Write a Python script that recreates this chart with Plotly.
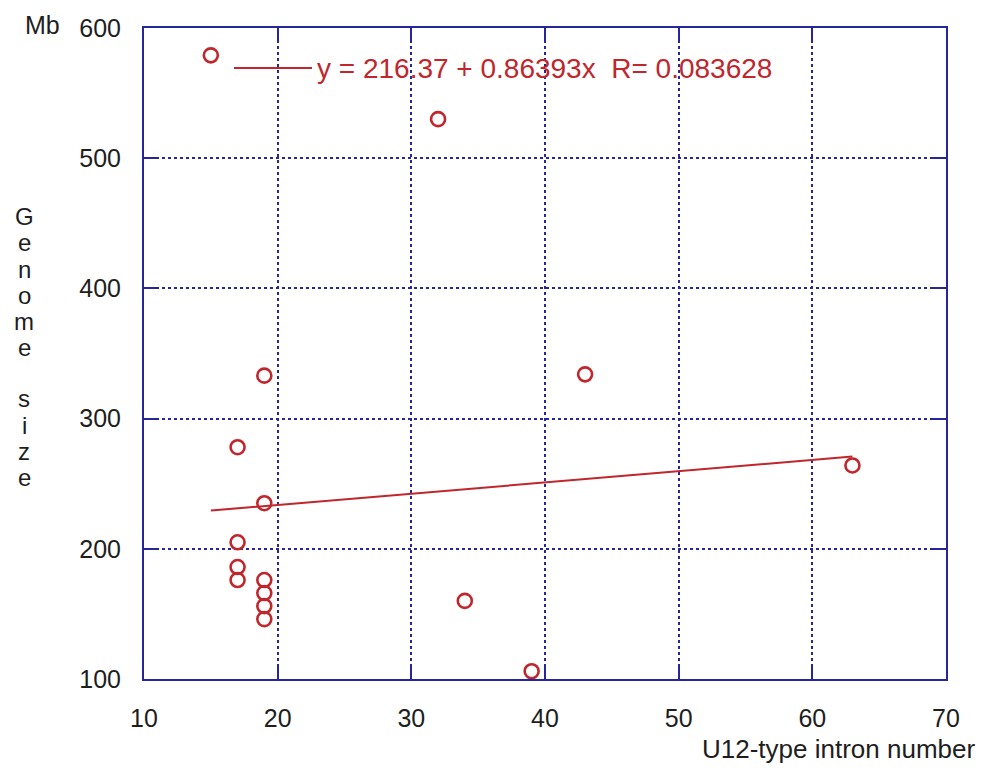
import plotly.graph_objects as go

# Data
intron_number = [15, 32, 19, 17, 19, 17, 17, 17, 19, 19, 19, 19, 34, 39, 43, 63]
genome_size_mb = [579, 530, 333, 278, 235, 205, 186, 176, 176, 166, 156, 146, 160, 106, 334, 264]

fit_intercept = 216.37
fit_slope = 0.86393
fit_r = 0.083628

x_ticks = [10, 20, 30, 40, 50, 60, 70]
y_ticks = [100, 200, 300, 400, 500, 600]
y_title = "Genome size"

RED = "#c0262c"
NAVY = "#26269a"
FONT = "Liberation Sans, Arial, sans-serif"
TXT = "#1e1e1e"

W, H = 985, 779
L, R, T, B = 144, 39, 28, 100
PW, PH = W - L - R, H - T - B


def px(xp):
    return (xp - L) / PW


def py(yp):
    return (H - B - yp) / PH


x_fit = [min(intron_number), max(intron_number)]
y_fit = [fit_intercept + fit_slope * v for v in x_fit]

fig = go.Figure()
fig.add_trace(go.Scatter(
    x=x_fit, y=y_fit, mode="lines",
    line=dict(color=RED, width=2), showlegend=False, hoverinfo="skip"))
fig.add_trace(go.Scatter(
    x=intron_number, y=genome_size_mb, mode="markers",
    marker=dict(symbol="circle-open", size=14, color=RED, line=dict(width=2.6, color=RED)),
    showlegend=False))

axis_common = dict(
    showline=True, linecolor=NAVY, linewidth=2, mirror="ticks",
    ticks="inside", ticklen=13, tickwidth=2, tickcolor=NAVY,
    showgrid=True, gridcolor=NAVY, gridwidth=1.5, griddash="dot",
    zeroline=False, tickfont=dict(family=FONT, size=25, color=TXT),
)

fig.update_layout(
    width=W, height=H,
    margin=dict(l=L, r=R, t=T, b=B),
    paper_bgcolor="white", plot_bgcolor="white",
    xaxis=dict(range=[10, 70], tickvals=x_ticks, ticklabelstandoff=16, **axis_common),
    yaxis=dict(range=[100, 600], tickvals=y_ticks, ticklabelstandoff=16, **axis_common),
    font=dict(family=FONT, color=TXT),
)

# legend-like fit line sample and equation text
fig.add_shape(type="line", xref="paper", yref="paper",
              x0=px(234), x1=px(312), y0=py(68), y1=py(68),
              line=dict(color=RED, width=2))
fig.add_annotation(
    xref="paper", yref="paper", x=px(315), y=py(68), xanchor="left", yanchor="middle",
    text=f"y = {fit_intercept} + {fit_slope}x  R= {fit_r}", showarrow=False,
    font=dict(family=FONT, size=28, color=RED))

# y axis title: vertically stacked letters
for i, ch in enumerate(y_title):
    if ch == " ":
        continue
    fig.add_annotation(
        xref="paper", yref="paper", x=px(24), y=py(217 + 26 * i), xanchor="center", yanchor="middle",
        text=ch, showarrow=False, font=dict(family=FONT, size=24, color=TXT))

fig.add_annotation(
    xref="paper", yref="paper", x=px(62), y=py(25), xanchor="right", yanchor="middle",
    text="Mb", showarrow=False, font=dict(family=FONT, size=25, color=TXT))

# x axis title
fig.add_annotation(
    xref="paper", yref="paper", x=px(977), y=py(749), xanchor="right", yanchor="middle",
    text="U12-type intron number", showarrow=False, font=dict(family=FONT, size=26, color=TXT))

fig.write_html("out.html", config={"displayModeBar": False},
               post_script="document.body.style.margin='0px';")
